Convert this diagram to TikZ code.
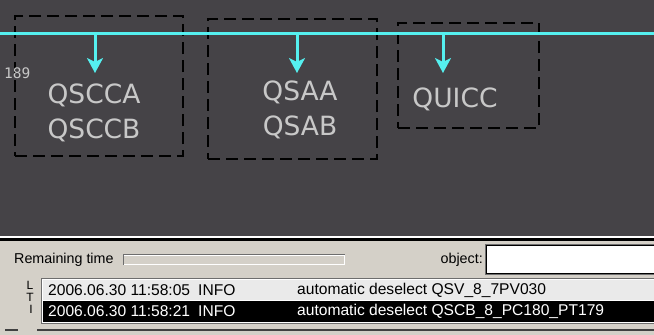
\documentclass[tikz,border=0pt]{standalone}
\usepackage{fontspec}
\usetikzlibrary{arrows.meta}
\newfontfamily\labelfont{DejaVu Sans}
\newfontfamily\uifont{Liberation Sans}
\newfontfamily\digitfont{DejaVu Sans Mono}
\definecolor{bgdark}{RGB}{69,67,71}
\definecolor{buscyan}{RGB}{85,240,240}
\definecolor{lbl}{RGB}{200,200,200}
\definecolor{panel}{RGB}{212,208,200}
\definecolor{rowlight}{RGB}{234,234,234}
\definecolor{bordergray}{RGB}{110,110,110}
\tikzset{
  groupbox/.style={draw=black, line width=1.3pt, dash pattern=on 12pt off 6pt, inner sep=0pt},
  biglabel/.style={text=lbl, align=center, inner sep=0pt, font=\labelfont\fontsize{26.5}{35}\selectfont},
  busarrow/.style={draw=buscyan, line width=3pt, -{Stealth[length=15pt,width=16pt,inset=4pt]}},
  uitext/.style={inner sep=0pt, font=\uifont\fontsize{14.3}{16}\selectfont},
  listtext/.style={inner sep=0pt, font=\uifont\fontsize{15.6}{17}\selectfont},
  smalltext/.style={inner sep=0pt, font=\uifont\fontsize{12}{14}\selectfont},
}
\begin{document}
\begin{tikzpicture}[x=1pt,y=-1pt]
\useasboundingbox (0,0) rectangle (654,335);
% dark canvas
\fill[bgdark] (0,0) rectangle (654,236);
\fill[white] (0,236) rectangle (654,238);
\fill[black] (0,238) rectangle (654,241);
\fill[panel] (0,241) rectangle (654,335);
% group boxes
\node[groupbox, minimum width=168pt, minimum height=140pt] (box1) at (99,86) {};
\node[groupbox, minimum width=169pt, minimum height=140pt] (box2) at (292.5,89) {};
\node[groupbox, minimum width=141pt, minimum height=105pt] (box3) at (468.5,75.5) {};
% bus
\coordinate (busL) at (0,33);
\coordinate (busR) at (654,33);
\draw[buscyan, line width=3pt] (busL) -- (busR);
\coordinate (t1) at (95,33);
\coordinate (t2) at (297,33);
\coordinate (t3) at (443,33);
\coordinate (h1) at (95,73);
\coordinate (h2) at (297,73);
\coordinate (h3) at (443,73);
\draw[busarrow] (t1) -- (h1);
\draw[busarrow] (t2) -- (h2);
\draw[busarrow] (t3) -- (h3);
% labels
\node[biglabel] (l1) at (94,113) {QSCCA\\QSCCB};
\node[biglabel] (l2) at (300,110) {QSAA\\QSAB};
\node[biglabel] (l3) at (455,99) {QUICC};
\node[anchor=west, inner sep=0pt, text=lbl, font=\digitfont\fontsize{14.5}{16}\selectfont] (num) at (4,73) {189};
% bottom panel
\node[uitext, anchor=west] (rt) at (14,260) {Remaining time};
\fill[bordergray] (123,254) rectangle (345,265);
\fill[white] (124,255) rectangle (345,265);
\fill[panel] (124,256) rectangle (344,264);
\node[uitext, anchor=east] (obj) at (483,260) {object:};
\fill[bordergray] (485,244) rectangle (654,275);
\fill[black] (486,245) rectangle (654,274);
\fill[white] (487,246) rectangle (654,273);
% side letters
\node[smalltext] (sL) at (30,285) {L};
\node[smalltext] (sT) at (30,297) {T};
\node[smalltext] (sI) at (31,309) {I};
% list
\fill[bordergray] (41,278) rectangle (654,324);
\fill[white] (42,279) rectangle (654,323);
\fill[rowlight] (43,280) rectangle (654,300);
\fill[black] (43,301) rectangle (654,322);
\node[listtext, anchor=west] (d1) at (48,290) {2006.06.30 11:58:05};
\node[listtext, anchor=west] (i1) at (198,290) {INFO};
\node[listtext, anchor=west] (m1) at (297,290) {automatic deselect QSV\_8\_7PV030};
\node[listtext, anchor=west, text=white] (d2) at (48,311) {2006.06.30 11:58:21};
\node[listtext, anchor=west, text=white] (i2) at (198,311) {INFO};
\node[listtext, anchor=west, text=white] (m2) at (297,311) {automatic deselect QSCB\_8\_PC180\_PT179};
% bottom edge lines
\fill[black!75] (5,329) rectangle (18,331);
\fill[black!75] (37,329) rectangle (654,331);
\end{tikzpicture}
\end{document}
